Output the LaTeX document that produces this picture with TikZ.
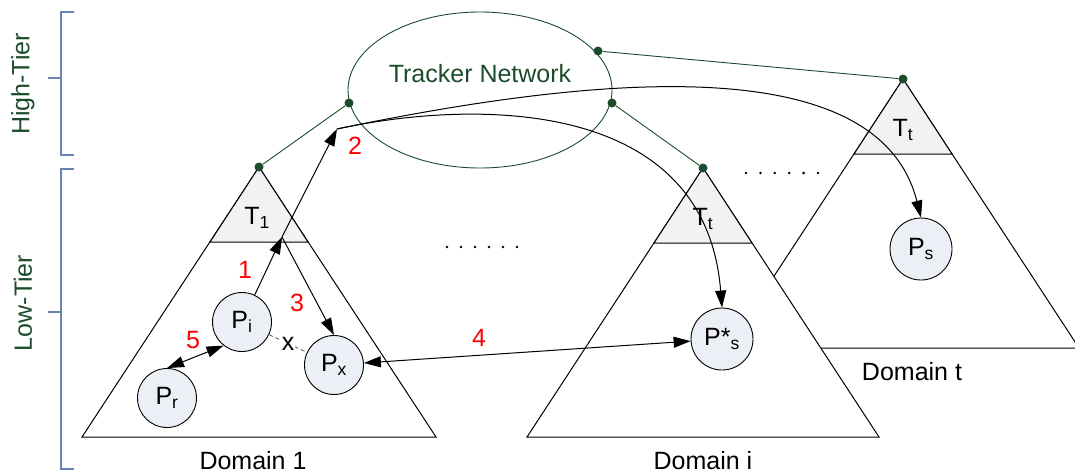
\documentclass[tikz,border=0pt]{standalone}
\usepackage{fontspec}
\setmainfont{Liberation Sans}
\usetikzlibrary{arrows.meta,shapes.geometric}

\definecolor{tiergreen}{RGB}{28,76,44}
\definecolor{bracketblue}{RGB}{105,132,178}
\definecolor{trackfill}{RGB}{242,242,242}
\definecolor{peerfill}{RGB}{236,239,245}
\definecolor{dashgray}{RGB}{100,100,100}

\begin{document}
\begin{tikzpicture}[x=1pt,y=-1pt,
  every node/.style={font=\fontsize{25}{29}\selectfont},
  domainbox/.style={draw=black,line width=1pt,fill=white},
  trackerzone/.style={draw=black,line width=1pt,fill=trackfill},
  caption/.style={inner sep=1pt},
  peer/.style={circle,draw=black,line width=0.9pt,fill=peerfill,inner sep=0pt,minimum size=59pt},
  bigpeer/.style={peer,minimum size=62pt},
  tierbracket/.style={draw=bracketblue,line width=1.2pt},
  tierlabel/.style={text=tiergreen,rotate=90},
  greenlink/.style={draw=tiergreen,line width=0.9pt},
  junction/.style={circle,fill=tiergreen,inner sep=0pt,minimum size=9pt},
  msg/.style={draw=black,line width=1pt,-{Triangle[length=17pt,width=11pt]}},
  msgboth/.style={draw=black,line width=1pt,{Triangle[length=17pt,width=11pt]}-{Triangle[length=17pt,width=11pt]}},
  stepnum/.style={text=red},
  faillink/.style={draw=dashgray,line width=0.9pt,dash pattern=on 4pt off 3pt}
]
\useasboundingbox (0,0) rectangle (1075,474);

% tier brackets
\draw[tierbracket] (74,12) -- (61,12) -- (61,155) -- (74,155);
\draw[tierbracket] (48,78) -- (61,78);
\draw[tierbracket] (74,169) -- (61,169) -- (61,469) -- (74,469);
\draw[tierbracket] (48,312) -- (61,312);
\node[tierlabel] (high) at (23,84) {High-Tier};
\node[tierlabel] (low) at (23,303) {Low-Tier};

% domain t (behind domain i)
\draw[domainbox] (903,79) -- (727,348) -- (1079,348) -- cycle;
\draw[trackerzone] (903,79) -- (854,154) -- (952,154) -- cycle;
\node (ttt) at (903,130) {T\textsubscript{t}};

% domain i
\draw[domainbox] (703,168) -- (527,437) -- (879,437) -- cycle;
\draw[trackerzone] (703,168) -- (654,243) -- (752,243) -- cycle;
\node (tti) at (703,219) {T\textsubscript{t}};

% domain 1
\draw[domainbox] (259,167) -- (82,437) -- (436,437) -- cycle;
\draw[trackerzone] (259,167) -- (210,242) -- (308,242) -- cycle;
\node (tt1) at (257,218) {T\textsubscript{1}};

% domain captions
\node[caption] (d1) at (253,461) {Domain 1};
\node[caption] (di) at (703,461) {Domain i};
\node[caption] (dt) at (912,372) {Domain t};

% elision dots
\foreach \k in {0,...,5} \fill (447+14*\k,247) circle (1.4pt);
\foreach \k in {0,...,5} \fill (746+14.4*\k,173) circle (1.4pt);

% tracker network
\node[ellipse,draw=tiergreen,line width=0.9pt,inner sep=0pt,minimum width=264pt,minimum height=156pt] (tn) at (480,90) {};
\node[text=tiergreen] (tnlabel) at (480,74) {Tracker Network};

% tracker links
\node[junction] (ja) at (349,103) {};
\node[junction] (jb) at (612,103) {};
\node[junction] (jc) at (598,51) {};
\node[junction] (j1) at (259,167) {};
\node[junction] (ji) at (703,168) {};
\node[junction] (jt) at (903,79) {};
\draw[greenlink] (j1) -- (ja);
\draw[greenlink] (ji) -- (jb);
\draw[greenlink] (jt) -- (jc);

% peers
\node[peer] (pi) at (242,322) {P\textsubscript{i}};
\node[peer] (px) at (334,365) {P\textsubscript{x}};
\node[peer] (pr) at (167,398) {P\textsubscript{r}};
\node[bigpeer] (pss) at (722,339) {P*\textsubscript{s}};
\node[bigpeer] (ps) at (921,249) {P\textsubscript{s}};

% message flow
\coordinate (t1port) at (282,237);
\coordinate (relay) at (337,129);
\draw[msg] (pi) -- (t1port);
\draw[msg] (t1port) -- (relay);
\draw[msg] (t1port) -- (px.north);
\draw[msg] (relay) .. controls (620,70) and (880,55) .. (ps.north);
\draw[msg] (relay) .. controls (470,100) and (705,95) .. (pss.north);
\draw[msgboth] (px) -- (pss);
\draw[msgboth] (pr.north) -- (pi.232);
\draw[faillink] (pi) -- node[fill=white,inner sep=1pt] (lost) {x} (px);

% step numbers
\node[stepnum] (n1) at (245,270) {1};
\node[stepnum] (n2) at (355,146) {2};
\node[stepnum] (n3) at (297,303) {3};
\node[stepnum] (n4) at (479,338) {4};
\node[stepnum] (n5) at (193,340) {5};
\end{tikzpicture}
\end{document}
